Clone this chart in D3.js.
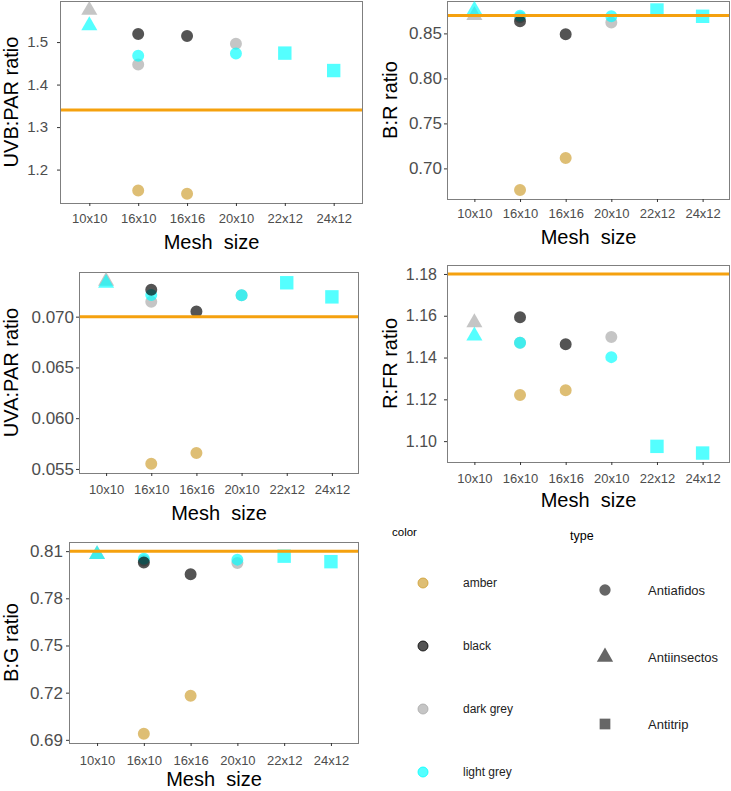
<!DOCTYPE html>
<html>
<head>
<meta charset="utf-8">
<script src="https://cdn.jsdelivr.net/npm/d3@7"></script>
<style>
  html, body { margin: 0; padding: 0; background: #fff; }
  svg { display: block; font-family: "Liberation Sans", Arial, sans-serif; }
</style>
</head>
<body>
<svg id="chart" width="731" height="791"></svg>
<script>
// ---------------- DATA ----------------
const meshSizes = ["10x10", "16x10", "16x16", "20x10", "22x12", "24x12"];
const colorLevels = ["amber", "black", "dark grey", "light grey"];
const typeLevels = ["Antiafidos", "Antiinsectos", "Antitrip"];

// one entry per net (drawing order)
const pointMesh  = ["10x10", "10x10", "16x10", "16x10", "16x10", "16x10", "16x16", "16x16", "20x10", "20x10", "22x12", "24x12"];
const pointColor = ["dark grey", "light grey", "dark grey", "light grey", "black", "amber", "black", "amber", "dark grey", "light grey", "light grey", "light grey"];
const pointType  = ["Antiinsectos", "Antiinsectos", "Antiafidos", "Antiafidos", "Antiafidos", "Antiafidos", "Antiafidos", "Antiafidos", "Antiafidos", "Antiafidos", "Antitrip", "Antitrip"];

const uvbParValues = [1.575, 1.539, 1.447, 1.468, 1.519, 1.151, 1.514, 1.143, 1.496, 1.473, 1.474, 1.433];
const brValues     = [0.870, 0.876, 0.868, 0.8697, 0.8634, 0.676, 0.849, 0.7115, 0.862, 0.869, 0.876, 0.869];
const uvaParValues = [0.0735, 0.0733, 0.07146, 0.07214, 0.07266, 0.0555, 0.07052, 0.05656, 0.0721, 0.0721, 0.07334, 0.07195];
const rfrValues    = [1.1567, 1.1504, 1.1471, 1.1471, 1.1593, 1.1221, 1.1464, 1.1243, 1.1498, 1.1402, 1.0975, 1.0943];
const bgValues     = [0.8079, 0.8079, 0.804, 0.8052, 0.8027, 0.6938, 0.7953, 0.718, 0.8024, 0.8046, 0.8068, 0.8033];

const refLines = [1.34, 0.87, 0.070, 1.18, 0.81];
const yTitles = ["UVB:PAR ratio", "B:R ratio", "UVA:PAR ratio", "R:FR ratio", "B:G ratio"];
const uvbTicks = [1.2, 1.3, 1.4, 1.5];
const brTicks  = [0.70, 0.75, 0.80, 0.85];
const uvaTicks = [0.055, 0.060, 0.065, 0.070];
const rfrTicks = [1.10, 1.12, 1.14, 1.16, 1.18];
const bgTicks  = [0.69, 0.72, 0.75, 0.78, 0.81];
const xTitle = "Mesh  size";

// ---------------- STYLE / LAYOUT ----------------
const colorScale = d3.scaleOrdinal().domain(colorLevels)
  .range(["#CE9E2F", "#000000", "#A9A9A9", "#00FFFF"]);
const shapeScale = d3.scaleOrdinal().domain(typeLevels)
  .range([d3.symbolCircle, d3.symbolTriangle, d3.symbolSquare]);
const shapeSize = { "Antiafidos": 113, "Antiinsectos": 112, "Antitrip": 180 };
const POINT_ALPHA = 0.67;

const panels = [
  { values: uvbParValues, ticks: uvbTicks, fmt: ".1f", L: 60,  R: 363, T: 1,   B: 203, tickFont: 15, tickGap: 12, xLab: 19.5, xTit: 46, yTitX: 18 },
  { values: brValues,     ticks: brTicks,  fmt: ".2f", L: 447, R: 730, T: 1,   B: 199, tickFont: 17, tickGap: 5,  xLab: 18.5, xTit: 45, yTitX: 397 },
  { values: uvaParValues, ticks: uvaTicks, fmt: ".3f", L: 79,  R: 359, T: 272, B: 473, tickFont: 17, tickGap: 5,  xLab: 21,   xTit: 47, yTitX: 18 },
  { values: rfrValues,    ticks: rfrTicks, fmt: ".2f", L: 447, R: 730, T: 265, B: 462, tickFont: 16, tickGap: 10, xLab: 21,   xTit: 45, yTitX: 397 },
  { values: bgValues,     ticks: bgTicks,  fmt: ".2f", L: 69,  R: 359, T: 542, B: 743, tickFont: 17, tickGap: 6,  xLab: 21.5, xTit: 43, yTitX: 18 }
];

const svg = d3.select("#chart");

panels.forEach((p, i) => {
  const g = svg.append("g");
  const x = d3.scalePoint().domain(meshSizes).range([p.L, p.R]).padding(0.6);
  const all = p.values.concat([refLines[i]]);
  const [lo, hi] = d3.extent(all);
  const ex = (hi - lo) * 0.05;
  const y = d3.scaleLinear().domain([lo - ex, hi + ex]).range([p.B, p.T]);

  // panel border
  g.append("rect").attr("x", p.L + 0.5).attr("y", p.T + 0.5)
    .attr("width", p.R - p.L - 1).attr("height", p.B - p.T)
    .attr("fill", "none").attr("stroke", "#7F7F7F").attr("stroke-width", 1);

  // y axis
  const yAxis = g.append("g").attr("transform", `translate(${p.L},0)`)
    .call(d3.axisLeft(y).tickValues(p.ticks).tickFormat(d3.format(p.fmt))
      .tickSize(3).tickPadding(p.tickGap - 3));
  yAxis.select(".domain").remove();
  yAxis.selectAll(".tick line").attr("stroke", "#333");
  yAxis.selectAll(".tick text").attr("fill", "#4D4D4D")
    .style("font-size", p.tickFont + "px").style("font-family", "'Liberation Sans', Arial, sans-serif");

  // x axis
  const xAxis = g.append("g").attr("transform", `translate(0,${p.B})`)
    .call(d3.axisBottom(x).tickSize(3).tickPadding(p.xLab - 12));
  xAxis.select(".domain").remove();
  xAxis.selectAll(".tick line").attr("stroke", "#333");
  xAxis.selectAll(".tick text").attr("fill", "#4D4D4D")
    .style("font-size", "13px").style("font-family", "'Liberation Sans', Arial, sans-serif");

  // points
  g.append("g").selectAll("path").data(p.values).join("path")
    .attr("transform", (d, k) => `translate(${x(pointMesh[k])},${y(d)})`)
    .attr("d", (d, k) => d3.symbol().type(shapeScale(pointType[k])).size(shapeSize[pointType[k]])())
    .attr("fill", (d, k) => colorScale(pointColor[k]))
    .attr("fill-opacity", POINT_ALPHA);

  // reference line
  g.append("line").attr("x1", p.L + 1).attr("x2", p.R - 1)
    .attr("y1", y(refLines[i])).attr("y2", y(refLines[i]))
    .attr("stroke", "#F5A10E").attr("stroke-width", 3);

  // titles
  g.append("text").attr("x", (p.L + p.R) / 2).attr("y", p.B + p.xTit)
    .attr("text-anchor", "middle").style("font-size", "20px").style("white-space", "pre")
    .attr("fill", "#000").text(xTitle);
  g.append("text")
    .attr("transform", `translate(${p.yTitX},${(p.T + p.B) / 2}) rotate(-90)`)
    .attr("text-anchor", "middle").style("font-size", "20px")
    .attr("fill", "#000").text(yTitles[i]);
});

// ---------------- LEGENDS ----------------
const leg = svg.append("g");
leg.append("text").attr("x", 392).attr("y", 536).style("font-size", "11.5px").attr("fill", "#000").text("color");
const colorY = d3.scalePoint().domain(colorLevels).range([583, 772]);
colorLevels.forEach(c => {
  leg.append("circle").attr("cx", 423).attr("cy", colorY(c)).attr("r", 5)
    .attr("fill", colorScale(c)).attr("fill-opacity", POINT_ALPHA)
    .attr("stroke", colorScale(c)).attr("stroke-opacity", 0.8).attr("stroke-width", 1);
  leg.append("text").attr("x", 463).attr("y", colorY(c) + 4).style("font-size", "12px")
    .attr("fill", "#222").text(c);
});

leg.append("text").attr("x", 570).attr("y", 540).style("font-size", "12.5px").attr("fill", "#000").text("type");
const typeY = d3.scalePoint().domain(typeLevels).range([590, 724]);
typeLevels.forEach(t => {
  leg.append("path").attr("transform", `translate(605,${typeY(t)})`)
    .attr("d", d3.symbol().type(shapeScale(t)).size(t === "Antiafidos" ? 100 : 115)())
    .attr("fill", "#666");
  leg.append("text").attr("x", 648).attr("y", typeY(t) + 4.5).style("font-size", "13px")
    .attr("fill", "#222").text(t);
});
</script>
</body>
</html>
